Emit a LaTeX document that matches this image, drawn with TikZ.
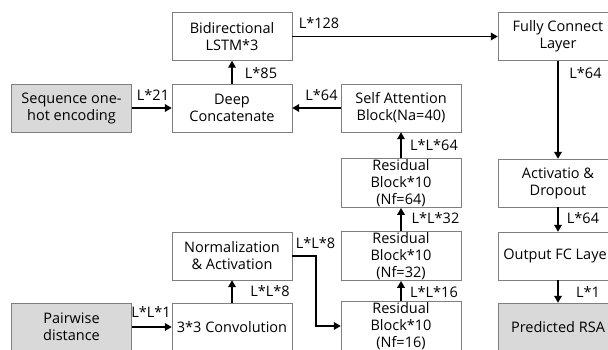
\documentclass[tikz,border=0pt]{standalone}
\usepackage{fontspec}
\setmainfont{Open Sans}
\usepackage{xcolor}
\definecolor{boxline}{HTML}{7F7F7F}
\definecolor{inputgray}{HTML}{D9D9D9}
\usepackage{tikz}
\usetikzlibrary{arrows.meta, positioning}

\begin{document}
\begin{tikzpicture}[x=1pt, y=-1pt,
  block/.style={draw=boxline, fill=white, minimum width=120pt, minimum height=48pt,
    align=center, inner sep=1pt, font=\fontsize{14.5}{17}\selectfont},
  iobox/.style={block, fill=inputgray},
  flow/.style={line width=1.8pt, -{Triangle[length=7pt, width=7.5pt]}},
  dim/.style={inner sep=1pt, font=\fontsize{14.5}{16}\selectfont}]
  \useasboundingbox (0,0) rectangle (608,349);
  \clip (0,0) rectangle (608,349);

  % Sequence branch
  \node[iobox] (seq) at (71.5,108) {Sequence one-\\hot encoding};
  \node[block] (concat) at (232,108) {Deep\\Concatenate};
  \node[block] (lstm) at (232,36.5) {Bidirectional\\LSTM*3};

  % Pairwise branch
  \node[iobox] (dist) at (71.5,327) {Pairwise\\distance};
  \node[block] (conv) at (232,327) {3*3 Convolution};
  \node[block] (norm) at (232,256) {Normalization\\\& Activation};
  \node[block] (res16) at (401,326) {Residual\\Block*10\\(Nf=16)};
  \node[block] (res32) at (401,256) {Residual\\Block*10\\(Nf=32)};
  \node[block] (res64) at (401,183) {Residual\\Block*10\\(Nf=64)};
  \node[block] (att) at (401,108) {Self Attention\\Block(Na=40)};

  % Output head
  \node[block] (fc) at (558,36.5) {Fully Connect\\Layer};
  \node[block] (act) at (558,183) {Activatio \&\\Dropout};
  \node[block] (outfc) at (558,256) {Output FC Layer};
  \node[iobox] (rsa) at (558,327) {Predicted RSA};

  % Connectors
  \draw[flow] (seq) -- (concat);
  \draw[flow] (att) -- (concat);
  \draw[flow] (concat) -- (lstm);
  \draw[flow] (lstm) -- (fc);
  \draw[flow] (fc) -- (act);
  \draw[flow] (act) -- (outfc);
  \draw[flow] (outfc) -- (rsa);
  \draw[flow] (dist) -- (conv);
  \draw[flow] (conv) -- (norm);
  \draw[flow] (norm.east) -- ++(24,0) |- (res16);
  \draw[flow] (res16) -- (res32);
  \draw[flow] (res32) -- (res64);
  \draw[flow] (res64) -- (att);

  % Sizes
  \node[dim] (d21) at (153,95) {L*21};
  \node[dim] (d64a) at (321.5,95) {L*64};
  \node[dim] (d85) at (261,73) {L*85};
  \node[dim] (d128) at (319,23) {L*128};
  \node[dim] (d64b) at (585.5,73) {L*64};
  \node[dim] (dll64) at (434,145) {L*L*64};
  \node[dim] (dll32) at (435.5,218) {L*L*32};
  \node[dim] (dll16) at (434,292) {L*L*16};
  \node[dim] (d64c) at (583,218) {L*64};
  \node[dim] (d1) at (588,292) {L*1};
  \node[dim] (dll8a) at (270,291) {L*L*8};
  \node[dim] (dll8b) at (315.5,243) {L*L*8};
  \node[dim] (dll1) at (151,312) {L*L*1};
\end{tikzpicture}
\end{document}
